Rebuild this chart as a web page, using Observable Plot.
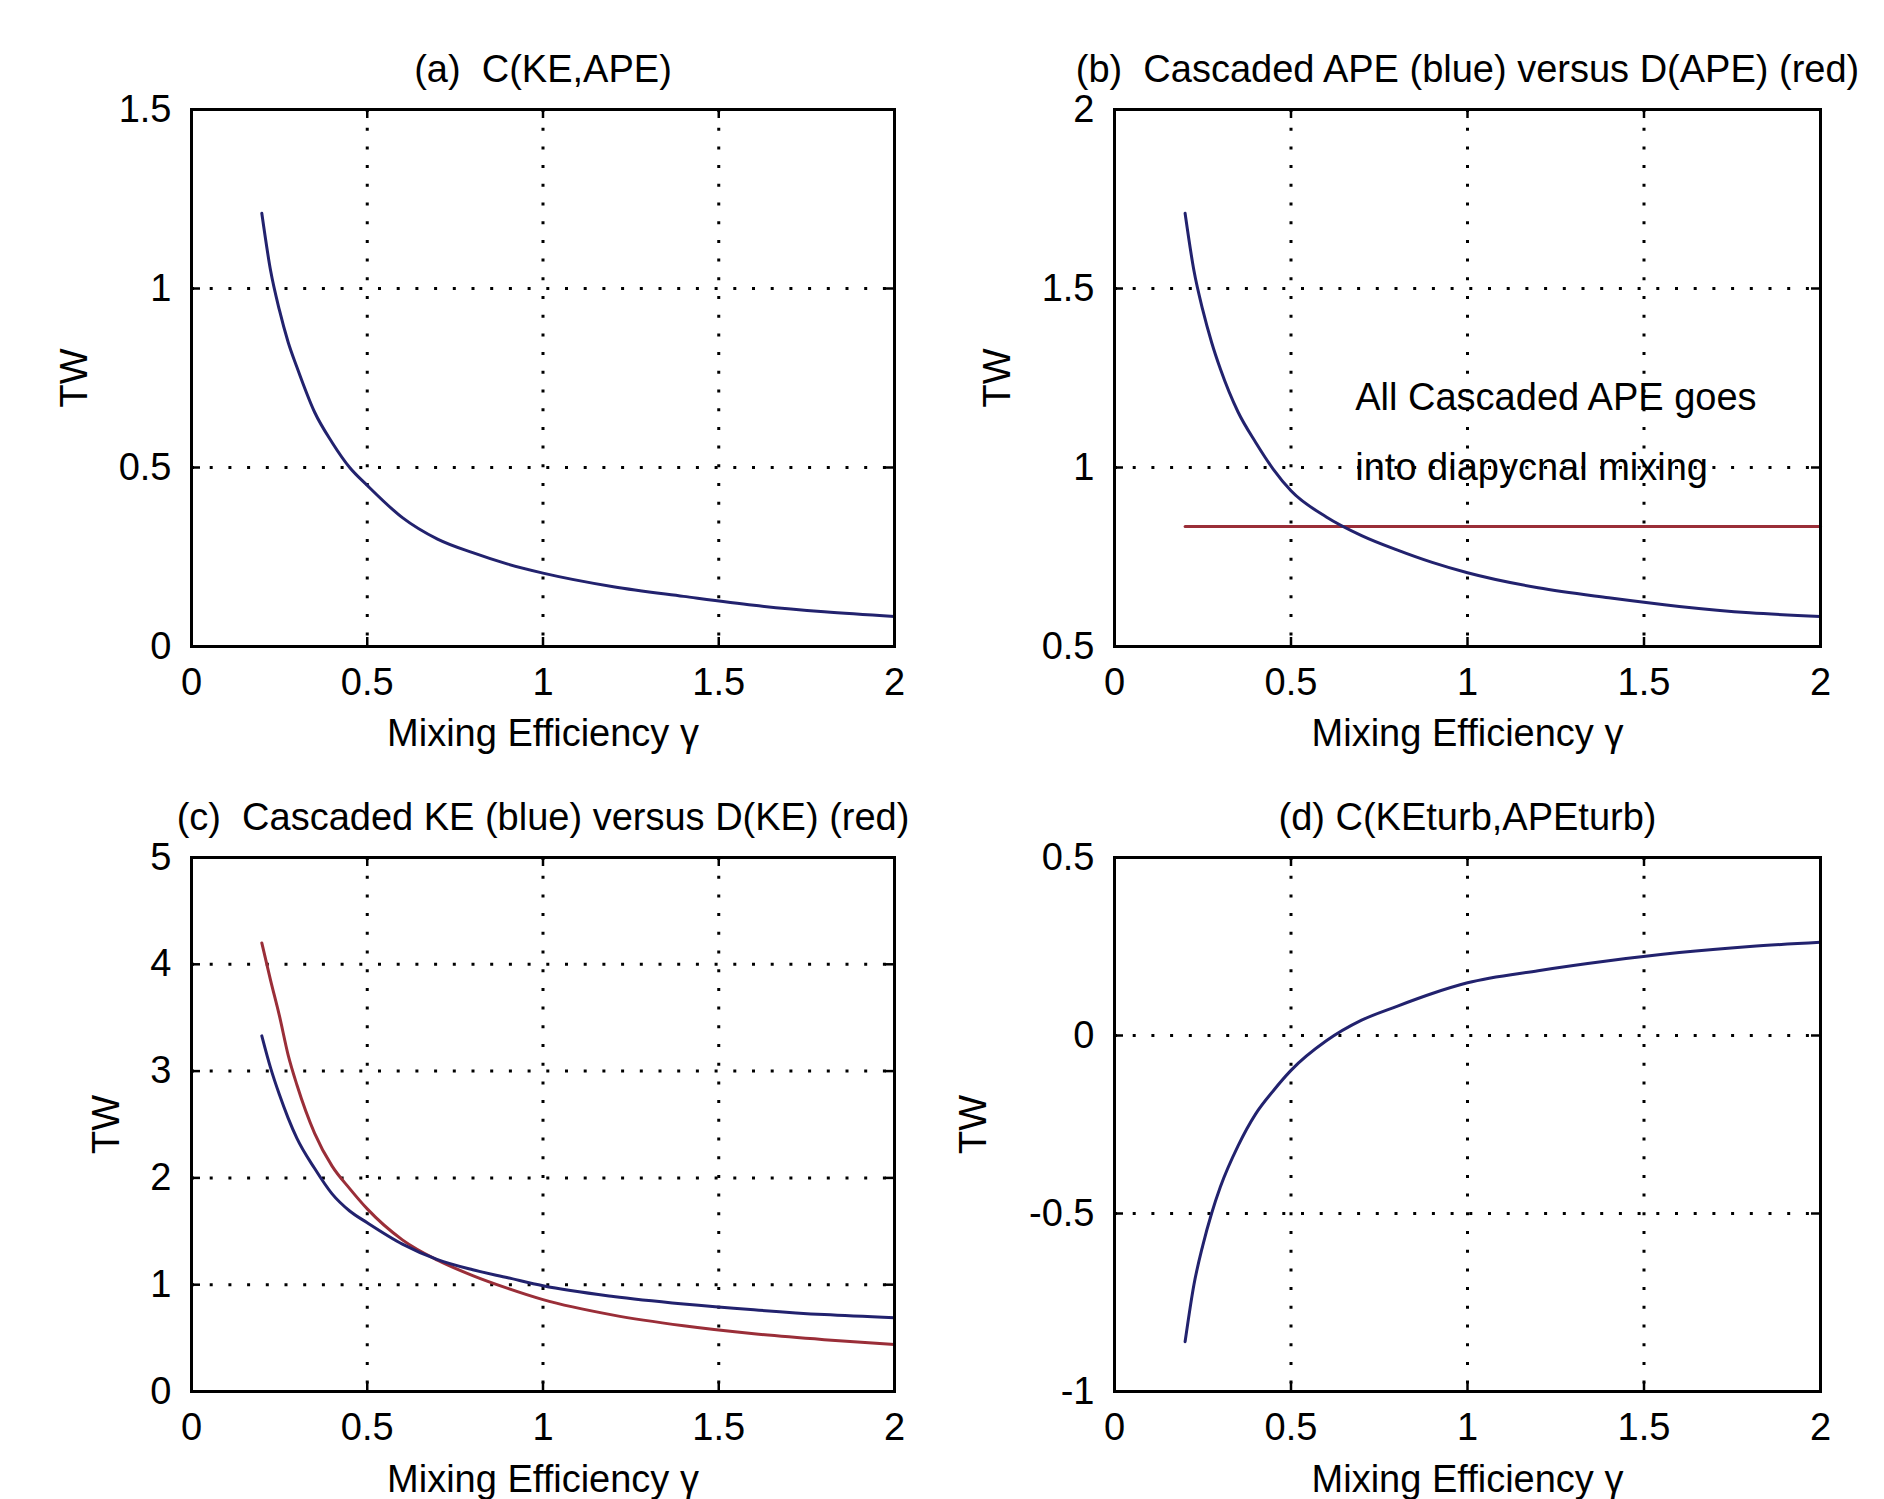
<!DOCTYPE html>
<html>
<head>
<meta charset="utf-8">
<script src="https://cdn.jsdelivr.net/npm/d3@7"></script>
<script src="https://cdn.jsdelivr.net/npm/@observablehq/plot@0.6"></script>
<style>
html, body { margin: 0; padding: 0; background: #fff; overflow: hidden; }
#fig { position: relative; width: 1884px; height: 1499px; background: #fff; }
.panel { position: absolute; }
</style>
</head>
<body>
<div id="fig"></div>
<script>
// ---------- data ----------
const gamma = [0.2, 0.225, 0.25, 0.275, 0.3, 0.35, 0.4, 0.45, 0.5, 0.6, 0.7, 0.8, 0.9, 1.0, 1.2, 1.4, 1.6, 1.8, 2.0];

// (a) C(KE,APE)
const cKeApe = [1.21, 1.05, 0.94, 0.85, 0.78, 0.655, 0.57, 0.50, 0.45, 0.36, 0.30, 0.262, 0.23, 0.205, 0.167, 0.14, 0.115, 0.097, 0.084];

// (b) Cascaded APE (blue) and D(APE) (red)
const cascadedApe = [1.71, 1.55, 1.44, 1.35, 1.275, 1.155, 1.07, 0.995, 0.935, 0.862, 0.81, 0.77, 0.735, 0.706, 0.664, 0.636, 0.612, 0.594, 0.584];
const dApeGamma = [0.2, 2.0];
const dApe = [0.835, 0.835];

// (c) Cascaded KE (blue) and D(KE) (red)
const cascadedKe = [3.33, 3.03, 2.78, 2.56, 2.37, 2.09, 1.85, 1.69, 1.58, 1.38, 1.235, 1.14, 1.065, 0.99, 0.89, 0.82, 0.765, 0.72, 0.69];
const dKe = [4.2, 3.85, 3.52, 3.15, 2.87, 2.42, 2.11, 1.90, 1.71, 1.42, 1.23, 1.085, 0.965, 0.86, 0.715, 0.615, 0.54, 0.485, 0.44];

// (d) C(KEturb,APEturb)
const cKeApeTurb = [-0.86, -0.70, -0.59, -0.50, -0.425, -0.31, -0.22, -0.155, -0.098, -0.015, 0.043, 0.082, 0.118, 0.148, 0.182, 0.21, 0.233, 0.25, 0.262];

// ticks
const xTicks = [0, 0.5, 1, 1.5, 2];
const yTicksA = [0, 0.5, 1, 1.5];
const yTicksB = [0.5, 1, 1.5, 2];
const yTicksC = [0, 1, 2, 3, 4, 5];
const yTicksD = [-1, -0.5, 0, 0.5];

// texts
const titles = [
  "(a)  C(KE,APE)",
  "(b)  Cascaded APE (blue) versus D(APE) (red)",
  "(c)  Cascaded KE (blue) versus D(KE) (red)",
  "(d) C(KEturb,APEturb)"
];
const xLabel = "Mixing Efficiency \u03b3";
const yLabel = "TW";
const noteLines = ["All Cascaded APE goes", "into diapycnal mixing"];
const noteX = [0.682, 0.682];
const noteY = [1.195, 1.0];

// ---------- drawing ----------
const FONT = "'Liberation Sans', Arial, Helvetica, sans-serif";
const FS = 38;
const BLUE = "#22226e";
const RED = "#9a2e38";
const fmt = d => String(d);

function rows(xs, ys) { return xs.map((g, i) => ({g, v: ys[i]})); }

function panel({left, top, width, height, margin, yDomain, yTicks, series, title, yLabelOffset, xLabelOffset, extras = []}) {
  const [mt, mr, mb, ml] = margin;
  const ph = height - mt - mb, pw = width - ml - mr;
  const xGrid = xTicks.filter(v => v > 0 && v < 2);
  const yGrid = yTicks.filter(v => v > yDomain[0] && v < yDomain[1]);
  const dotted = {stroke: "black", strokeWidth: 3, strokeDasharray: "3 15.7"};
  const tk = {stroke: "black", strokeWidth: 2.5};
  const chart = Plot.plot({
    width, height,
    marginTop: mt, marginRight: mr, marginBottom: mb, marginLeft: ml,
    style: {fontFamily: FONT, fontSize: FS + "px", background: "transparent", overflow: "visible", color: "black"},
    x: {domain: [0, 2]},
    y: {domain: yDomain},
    marks: [
      Plot.ruleX(xGrid, {x: d => d, ...dotted}),
      Plot.ruleY(yGrid, {y: d => d, ...dotted}),
      ...series.map(s => Plot.line(rows(s.x, s.y), {x: "g", y: "v", stroke: s.color, strokeWidth: 3, curve: "monotone-x"})),
      Plot.tickX(xTicks, {x: d => d, insetTop: ph - 9, ...tk}),
      Plot.tickX(xTicks, {x: d => d, insetBottom: ph - 9, ...tk}),
      Plot.tickY(yTicks, {y: d => d, insetRight: pw - 9, ...tk}),
      Plot.tickY(yTicks, {y: d => d, insetLeft: pw - 9, ...tk}),
      Plot.frame({stroke: "black", strokeWidth: 3}),
      Plot.axisX(xTicks, {tickSize: 0, tickPadding: 22, tickFormat: fmt, label: null, fontSize: FS}),
      Plot.axisY(yTicks, {tickSize: 0, tickPadding: 20, tickFormat: fmt, label: null, fontSize: FS}),
      Plot.text([title], {frameAnchor: "top", lineAnchor: "middle", textAnchor: "middle", dy: -40, fontSize: FS}),
      Plot.text([xLabel], {frameAnchor: "bottom", lineAnchor: "middle", textAnchor: "middle", dy: xLabelOffset, fontSize: FS}),
      Plot.text([yLabel], {frameAnchor: "left", lineAnchor: "middle", textAnchor: "middle", dx: -yLabelOffset, rotate: -90, fontSize: FS}),
      ...extras
    ]
  });
  chart.classList.add("panel");
  chart.style.left = left + "px";
  chart.style.top = top + "px";
  document.getElementById("fig").appendChild(chart);
}

panel({
  left: 0, top: 0, width: 942, height: 760, margin: [109, 48, 114, 191],
  yDomain: [0, 1.5], yTicks: yTicksA, title: titles[0], yLabelOffset: 117, xLabelOffset: 87,
  series: [{x: gamma, y: cKeApe, color: BLUE}]
});

panel({
  left: 942, top: 0, width: 942, height: 760, margin: [109, 64, 114, 172],
  yDomain: [0.5, 2], yTicks: yTicksB, title: titles[1], yLabelOffset: 117, xLabelOffset: 87,
  series: [{x: dApeGamma, y: dApe, color: RED}, {x: gamma, y: cascadedApe, color: BLUE}],
  extras: [Plot.text(noteLines, {x: (d, i) => noteX[i], y: (d, i) => noteY[i], text: d => d, textAnchor: "start", fontSize: FS})]
});

panel({
  left: 0, top: 760, width: 942, height: 739, margin: [97, 48, 108, 191],
  yDomain: [0, 5], yTicks: yTicksC, title: titles[2], yLabelOffset: 85, xLabelOffset: 88,
  series: [{x: gamma, y: dKe, color: RED}, {x: gamma, y: cascadedKe, color: BLUE}]
});

panel({
  left: 942, top: 760, width: 942, height: 739, margin: [97, 64, 108, 172],
  yDomain: [-1, 0.5], yTicks: yTicksD, title: titles[3], yLabelOffset: 141, xLabelOffset: 88,
  series: [{x: gamma, y: cKeApeTurb, color: BLUE}]
});
</script>
</body>
</html>
